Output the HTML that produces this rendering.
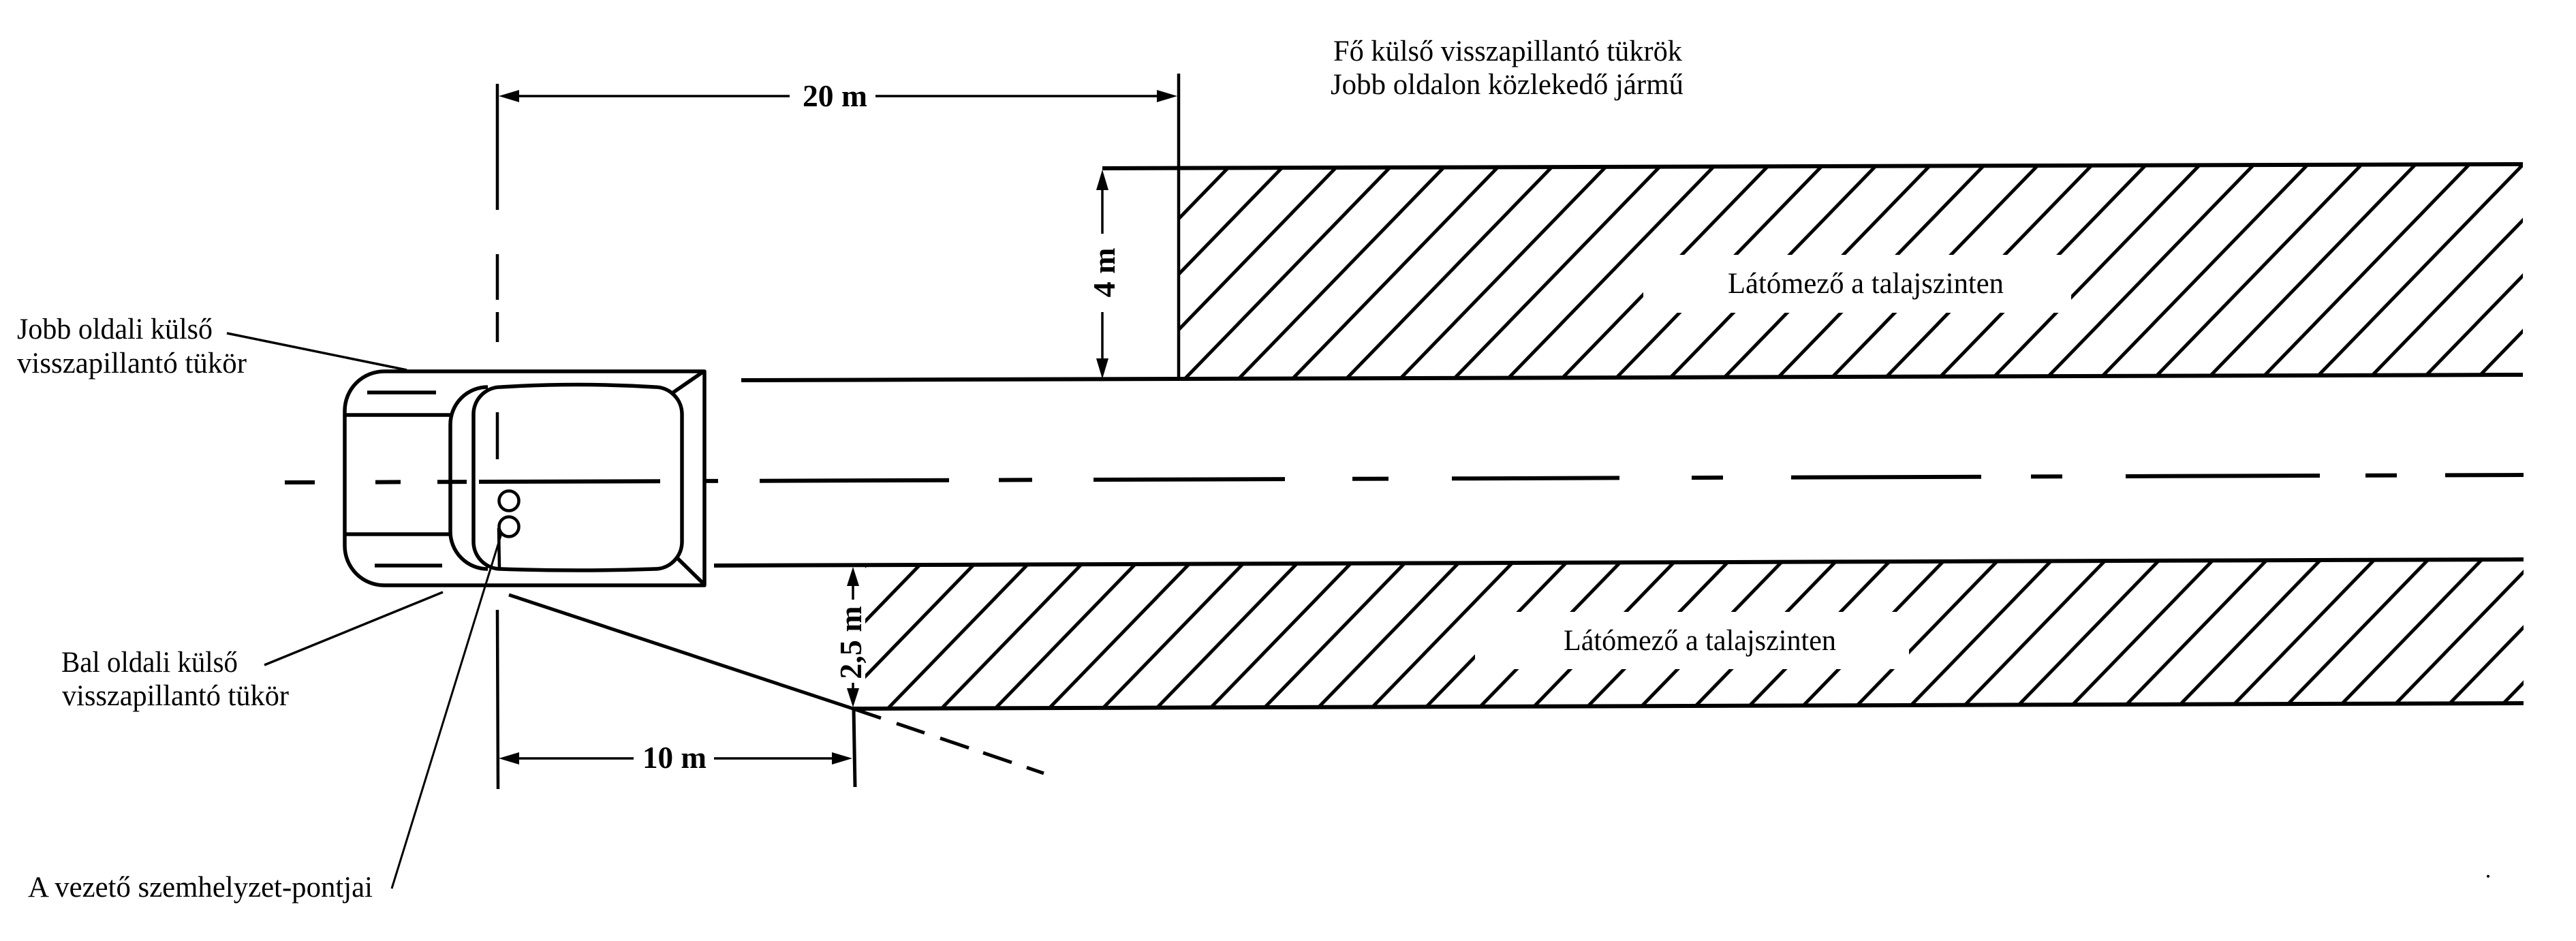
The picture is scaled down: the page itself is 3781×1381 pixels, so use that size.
<!DOCTYPE html>
<html>
<head>
<meta charset="utf-8">
<style>
html,body{margin:0;padding:0;background:#fff;}
svg{display:block;}
text{font-family:"Liberation Serif","DejaVu Serif",serif;fill:#000;}
.lbl{font-size:43px;}
.dim{font-size:46px;font-weight:bold;}
</style>
</head>
<body>
<svg width="3781" height="1381" viewBox="0 0 3781 1381" xmlns="http://www.w3.org/2000/svg">
<defs>
  <pattern id="h1" patternUnits="userSpaceOnUse" x="1739" y="474.6" width="79" height="81.4">
    <line x1="-8" y1="89.6" x2="87" y2="-8.2" stroke="#000" stroke-width="5"/>
    <line x1="-8" y1="8.2" x2="8" y2="-8.2" stroke="#000" stroke-width="5"/>
    <line x1="71" y1="89.6" x2="87" y2="73.2" stroke="#000" stroke-width="5"/>
  </pattern>
  <pattern id="h2" patternUnits="userSpaceOnUse" x="1303" y="958.8" width="78.8" height="81.2">
    <line x1="-8" y1="89.4" x2="86.8" y2="-8.2" stroke="#000" stroke-width="5"/>
    <line x1="-8" y1="8.2" x2="8" y2="-8.2" stroke="#000" stroke-width="5"/>
    <line x1="70.8" y1="89.4" x2="86.8" y2="73" stroke="#000" stroke-width="5"/>
  </pattern>
</defs>
<rect x="0" y="0" width="3781" height="1381" fill="#fff"/>

<!-- Upper hatched band -->
<polygon points="1730,246.7 3703,241 3703,550 1730,556" fill="url(#h1)"/>
<rect x="2412" y="374" width="628" height="85" fill="#fff"/>
<!-- Lower hatched band -->
<polygon points="1270,830 3704,821 3704,1032 1270,1040" fill="url(#h2)"/>
<rect x="2165" y="898" width="637" height="84" fill="#fff"/>

<g stroke="#000" fill="none" stroke-linecap="butt">
  <!-- band edges / road edges -->
  <line x1="1618" y1="247" x2="3703" y2="241" stroke-width="6"/>
  <line x1="1088" y1="558" x2="3703" y2="550" stroke-width="6"/>
  <line x1="1048" y1="830" x2="3704" y2="821" stroke-width="6"/>
  <line x1="1252" y1="1040" x2="3704" y2="1032" stroke-width="6"/>

  <!-- center dash line -->
  <g stroke-width="6">
    <line x1="418" y1="708" x2="462" y2="707.9"/>
    <line x1="551" y1="707.6" x2="588" y2="707.4"/>
    <line x1="642" y1="707.3" x2="685" y2="707.1"/>
    <line x1="703" y1="707" x2="969" y2="706.2"/>
    <line x1="1035" y1="705.9" x2="1054" y2="705.9"/>
    <line x1="1115" y1="705.7" x2="1393" y2="704.7"/>
    <line x1="1466" y1="704.5" x2="1515" y2="704.3"/>
    <line x1="1605" y1="704" x2="1886" y2="703.1"/>
    <line x1="1985" y1="702.8" x2="2038" y2="702.6"/>
    <line x1="2131" y1="702.3" x2="2377" y2="701.4"/>
    <line x1="2483" y1="701.1" x2="2529" y2="700.9"/>
    <line x1="2629" y1="700.6" x2="2908" y2="699.7"/>
    <line x1="2981" y1="699.4" x2="3027" y2="699.3"/>
    <line x1="3120" y1="699" x2="3405" y2="698"/>
    <line x1="3472" y1="697.8" x2="3518" y2="697.6"/>
    <line x1="3589" y1="697.4" x2="3704" y2="697"/>
  </g>

  <!-- left vertical dashed line x=730 -->
  <g stroke-width="4.5">
    <line x1="730" y1="123" x2="730" y2="308"/>
    <line x1="730" y1="373" x2="730" y2="440"/>
    <line x1="730" y1="458" x2="730" y2="502"/>
    <line x1="730" y1="605" x2="730" y2="674"/>
    <line x1="732" y1="775" x2="733" y2="833"/>
    <line x1="730" y1="895" x2="731" y2="1158"/>
  </g>
  <!-- right vertical line of 20 m -->
  <line x1="1730" y1="108" x2="1730" y2="557" stroke-width="4.5"/>
  <!-- 10 m right vertical -->
  <line x1="1253" y1="1040" x2="1255" y2="1155" stroke-width="5"/>

  <!-- dimension lines -->
  <g stroke-width="3.5">
    <line x1="740" y1="141" x2="1159" y2="141"/>
    <line x1="1285" y1="141" x2="1720" y2="141"/>
    <line x1="1618" y1="260" x2="1618" y2="343"/>
    <line x1="1618" y1="458" x2="1618" y2="545"/>
    <line x1="1252" y1="842" x2="1252" y2="880"/>
    <line x1="1252" y1="1002" x2="1252" y2="1028"/>
    <line x1="740" y1="1113" x2="930" y2="1113"/>
    <line x1="1048" y1="1113" x2="1240" y2="1113"/>
  </g>

  <!-- sight line -->
  <line x1="747" y1="873" x2="1252" y2="1040" stroke-width="5"/>
  <g stroke-width="5">
    <line x1="1252" y1="1040" x2="1293" y2="1053.9"/>
    <line x1="1316" y1="1061.7" x2="1357" y2="1075.6"/>
    <line x1="1380" y1="1083.4" x2="1422" y2="1097.6"/>
    <line x1="1443" y1="1104.7" x2="1485" y2="1119"/>
    <line x1="1507" y1="1126.4" x2="1532" y2="1134.9"/>
  </g>

  <!-- leaders -->
  <line x1="333" y1="489" x2="597" y2="543" stroke-width="3.5"/>
  <line x1="388" y1="976" x2="650" y2="869" stroke-width="3.5"/>
  <line x1="736" y1="783" x2="575" y2="1304" stroke-width="3"/>

  <!-- vehicle -->
  <g stroke-width="5.5" stroke-linejoin="round">
    <path d="M 564 545 H 1034 V 859 H 564 A 58 58 0 0 1 506 801 V 603 A 58 58 0 0 1 564 545 Z"/>
    <line x1="508" y1="609" x2="661" y2="609"/>
    <line x1="508" y1="784" x2="661" y2="784"/>
    <line x1="539" y1="576" x2="640" y2="576"/>
    <line x1="550" y1="830" x2="649" y2="830"/>
    <path d="M 716 568 A 55 55 0 0 0 661 623 V 780 A 55 55 0 0 0 716 835"/>
    <path d="M 735 568 Q 848 561 961 568 A 40 40 0 0 1 1001 608 V 795 A 40 40 0 0 1 961 835 Q 848 839 735 835 A 40 40 0 0 1 695 795 V 608 A 40 40 0 0 1 735 568 Z"/>
    <line x1="988" y1="576" x2="1033" y2="545"/>
    <line x1="992" y1="817" x2="1033" y2="857"/>
  </g>
  <circle cx="747" cy="735" r="14.5" stroke-width="4.5" fill="#fff"/>
  <circle cx="747" cy="773" r="14.5" stroke-width="4.5" fill="#fff"/>
</g>

<!-- arrowheads -->
<g fill="#000">
  <polygon points="732,141 762,132 762,150"/>
  <polygon points="1728,141 1698,132 1698,150"/>
  <polygon points="1618,249 1609,279 1627,279"/>
  <polygon points="1618,556 1609,526 1627,526"/>
  <polygon points="1252,832 1243,860 1261,860"/>
  <polygon points="1252,1038 1243,1010 1261,1010"/>
  <polygon points="732,1113 762,1104 762,1122"/>
  <polygon points="1251,1113 1221,1104 1221,1122"/>
  <circle cx="3652" cy="1286" r="2"/>
</g>

<!-- dimension labels -->
<text class="dim" x="1178" y="156" textLength="95" lengthAdjust="spacingAndGlyphs">20 m</text>
<text class="dim" x="943" y="1127" textLength="94" lengthAdjust="spacingAndGlyphs">10 m</text>
<text class="dim" transform="translate(1636,400) rotate(-90)" text-anchor="middle">4 m</text>
<text class="dim" transform="translate(1264,943) rotate(-90)" text-anchor="middle">2,5 m</text>

<!-- labels -->
<text class="lbl" x="1957" y="89" textLength="512" lengthAdjust="spacingAndGlyphs">Fő külső visszapillantó tükrök</text>
<text class="lbl" x="1953" y="138" textLength="518" lengthAdjust="spacingAndGlyphs">Jobb oldalon közlekedő jármű</text>
<text class="lbl" x="25" y="497" textLength="287" lengthAdjust="spacingAndGlyphs">Jobb oldali külső</text>
<text class="lbl" x="25" y="547" textLength="337" lengthAdjust="spacingAndGlyphs">visszapillantó tükör</text>
<text class="lbl" x="90" y="986" textLength="259" lengthAdjust="spacingAndGlyphs">Bal oldali külső</text>
<text class="lbl" x="91" y="1035" textLength="333" lengthAdjust="spacingAndGlyphs">visszapillantó tükör</text>
<text class="lbl" x="41" y="1316" textLength="506" lengthAdjust="spacingAndGlyphs">A vezető szemhelyzet-pontjai</text>
<text class="lbl" x="2536" y="430" textLength="405" lengthAdjust="spacingAndGlyphs">Látómező a talajszinten</text>
<text class="lbl" x="2295" y="954" textLength="400" lengthAdjust="spacingAndGlyphs">Látómező a talajszinten</text>
</svg>
</body>
</html>
